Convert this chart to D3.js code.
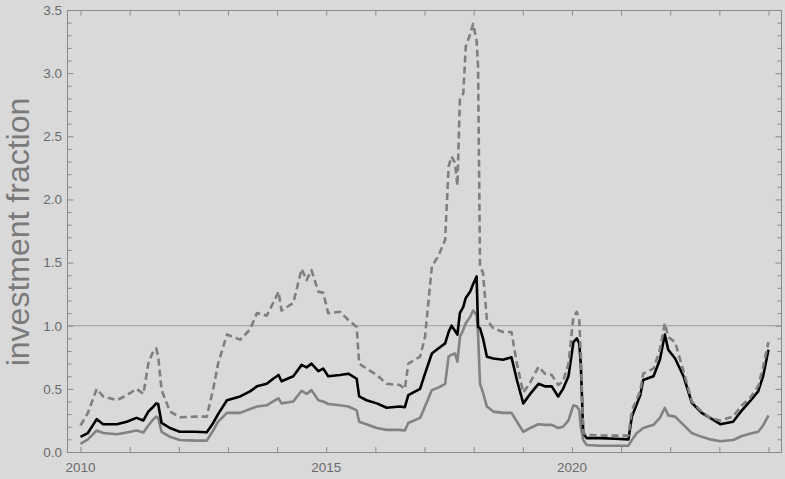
<!DOCTYPE html>
<html>
<head>
<meta charset="utf-8">
<script src="https://cdn.jsdelivr.net/npm/d3@7"></script>
<style>
html,body{margin:0;padding:0;background:#d9d9d9;}
svg{display:block;}
</style>
</head>
<body>
<svg id="chart" width="785" height="479"></svg>
<script>
// Time points (decimal years)
const years = [
2010.00,2010.15,2010.33,2010.46,2010.74,2010.94,2011.14,2011.28,2011.38,2011.46,
2011.54,2011.58,2011.65,2011.82,2012.02,2012.33,2012.57,2012.70,2012.80,2012.98,
2013.25,2013.45,2013.59,2013.79,2013.92,2014.03,2014.09,2014.33,2014.50,2014.60,
2014.70,2014.84,2014.94,2015.04,2015.28,2015.45,2015.62,2015.67,2015.82,2016.03,
2016.23,2016.50,2016.60,2016.67,2016.91,2017.01,2017.15,2017.28,2017.42,2017.49,
2017.55,2017.62,2017.67,2017.72,2017.79,2017.84,2017.93,2017.99,2018.06,2018.09,
2018.13,2018.19,2018.27,2018.40,2018.60,2018.77,2018.88,2019.01,2019.15,2019.32,
2019.45,2019.59,2019.72,2019.82,2019.93,2020.03,2020.10,2020.15,2020.18,2020.23,
2020.30,2020.57,2020.88,2021.15,2021.22,2021.32,2021.39,2021.45,2021.66,2021.79,
2021.89,2021.96,2022.10,2022.27,2022.44,2022.64,2022.81,2023.02,2023.28,2023.46,
2023.62,2023.79,2023.89,2024.00
];
// middle estimate (black solid)
const midValues = [
0.12,0.15,0.26,0.22,0.22,0.24,0.27,0.25,0.32,0.35,
0.385,0.38,0.23,0.19,0.16,0.16,0.156,0.23,0.30,0.41,
0.44,0.48,0.52,0.54,0.58,0.61,0.56,0.60,0.69,0.67,
0.70,0.64,0.66,0.60,0.61,0.62,0.58,0.44,0.41,0.385,
0.35,0.36,0.355,0.45,0.50,0.62,0.78,0.82,0.86,0.95,
1.00,0.96,0.93,1.10,1.15,1.22,1.27,1.33,1.39,0.99,
0.98,0.90,0.755,0.74,0.73,0.75,0.57,0.385,0.46,0.54,
0.52,0.52,0.44,0.50,0.60,0.87,0.90,0.86,0.70,0.15,
0.11,0.11,0.105,0.10,0.28,0.38,0.45,0.57,0.60,0.73,
0.93,0.81,0.74,0.60,0.39,0.31,0.27,0.22,0.24,0.33,
0.40,0.48,0.60,0.81
];
// upper estimate (gray dashed)
const highValues = [
0.21,0.31,0.50,0.44,0.41,0.45,0.50,0.46,0.70,0.78,
0.82,0.76,0.49,0.32,0.275,0.28,0.28,0.50,0.70,0.93,
0.89,0.97,1.10,1.08,1.18,1.27,1.12,1.18,1.45,1.36,
1.44,1.27,1.26,1.10,1.11,1.045,0.99,0.70,0.66,0.61,
0.54,0.53,0.50,0.70,0.755,0.91,1.47,1.55,1.68,2.26,
2.34,2.29,2.11,2.79,2.84,3.21,3.31,3.39,3.26,3.05,
1.47,1.42,1.045,0.98,0.95,0.95,0.70,0.47,0.55,0.675,
0.62,0.61,0.53,0.56,0.70,1.07,1.11,1.045,0.78,0.15,
0.135,0.13,0.13,0.13,0.33,0.42,0.48,0.62,0.66,0.81,
1.02,0.91,0.87,0.64,0.40,0.32,0.27,0.25,0.28,0.37,
0.425,0.52,0.675,0.87
];
// lower estimate (gray solid)
const lowValues = [
0.065,0.10,0.17,0.15,0.14,0.155,0.17,0.155,0.21,0.25,
0.28,0.27,0.16,0.12,0.095,0.09,0.09,0.17,0.24,0.31,
0.31,0.34,0.36,0.37,0.40,0.425,0.385,0.40,0.485,0.46,
0.49,0.41,0.40,0.38,0.37,0.36,0.33,0.24,0.22,0.19,
0.175,0.175,0.17,0.23,0.27,0.36,0.49,0.51,0.54,0.755,
0.77,0.78,0.715,0.91,0.97,1.02,1.07,1.12,1.085,0.94,
0.54,0.47,0.36,0.32,0.31,0.31,0.24,0.16,0.19,0.22,
0.215,0.215,0.19,0.20,0.25,0.37,0.36,0.33,0.20,0.095,
0.055,0.05,0.05,0.05,0.095,0.15,0.17,0.19,0.215,0.27,
0.35,0.29,0.28,0.215,0.15,0.12,0.10,0.085,0.095,0.127,
0.145,0.16,0.21,0.29
];
const xTickYears = [2010,2011,2012,2013,2014,2015,2016,2017,2018,2019,2020,2021,2022,2023,2024];
const xLabelYears = [2010,2015,2020];
const yMajorTicks = [0,0.5,1.0,1.5,2.0,2.5,3.0,3.5];
const yMinorTicks = d3.range(0,3.501,0.1);
const yTitle = "investment fraction";

const svg = d3.select("#chart");
const L=67, R=782, T=10, B=452;
const x = d3.scaleLinear().domain([2009.725,2024.275]).range([L,R]);
const y = d3.scaleLinear().domain([0,3.5]).range([B,T]);

svg.append("rect").attr("width",785).attr("height",479).attr("fill","#d9d9d9");

// reference line at 1.0
svg.append("line")
  .attr("x1",L).attr("x2",R)
  .attr("y1",y(1)).attr("y2",y(1))
  .attr("stroke","#a9a9a9").attr("stroke-width",1.2);

const line = vals => d3.line().x((d,i)=>x(years[i])).y(d=>y(d))(vals);

svg.append("path").attr("d",line(lowValues))
  .attr("fill","none").attr("stroke","#828282").attr("stroke-width",2.6)
  .attr("stroke-linejoin","round");
svg.append("path").attr("d",line(midValues))
  .attr("fill","none").attr("stroke","#000").attr("stroke-width",2.6)
  .attr("stroke-linejoin","round");
svg.append("path").attr("d",line(highValues))
  .attr("fill","none").attr("stroke","#7f7f7f").attr("stroke-width",2.6)
  .attr("stroke-dasharray","7,4").attr("stroke-linejoin","round");

// frame
const frameColor="#8a8a8a";
svg.append("rect").attr("x",L+0.5).attr("y",T+0.5).attr("width",R-L-1).attr("height",B-T)
  .attr("fill","none").attr("stroke",frameColor).attr("stroke-width",1);

// axes via d3 axis generators, ticks inward
const bottomAxis = d3.axisBottom(x).tickValues(xTickYears).tickSize(-5).tickFormat("");
const topAxis = d3.axisTop(x).tickValues(xTickYears).tickSize(-5).tickFormat("");
const gb = svg.append("g").attr("transform",`translate(0,${B})`).call(bottomAxis);
const gt = svg.append("g").attr("transform",`translate(0,${T+0.5})`).call(topAxis);
const minorOnly = yMinorTicks.filter(v=>!yMajorTicks.some(m=>Math.abs(m-v)<1e-6));
const gl1 = svg.append("g").attr("transform",`translate(${L+0.5},0)`).call(d3.axisLeft(y).tickValues(yMajorTicks).tickSize(-6).tickFormat(""));
const gl2 = svg.append("g").attr("transform",`translate(${L+0.5},0)`).call(d3.axisLeft(y).tickValues(minorOnly).tickSize(-4).tickFormat(""));
const gr1 = svg.append("g").attr("transform",`translate(${R-0.5},0)`).call(d3.axisRight(y).tickValues(yMajorTicks).tickSize(-6).tickFormat(""));
const gr2 = svg.append("g").attr("transform",`translate(${R-0.5},0)`).call(d3.axisRight(y).tickValues(minorOnly).tickSize(-4).tickFormat(""));
[gb,gt,gl1,gl2,gr1,gr2].forEach(g=>{
  g.select(".domain").remove();
  g.selectAll(".tick line").attr("stroke",frameColor).attr("stroke-width",1);
});

// labels
const labelColor="#6a6a6a";
svg.append("g").selectAll("text").data(xLabelYears).join("text")
  .attr("x",d=>x(d)).attr("y",472)
  .attr("text-anchor","middle")
  .attr("font-family","Liberation Sans, Arial, sans-serif").attr("font-size",13.5)
  .attr("fill",labelColor).text(d=>d);
svg.append("g").selectAll("text").data(yMajorTicks).join("text")
  .attr("x",62).attr("y",d=>y(d)+4.8)
  .attr("text-anchor","end")
  .attr("font-family","Liberation Sans, Arial, sans-serif").attr("font-size",13.5)
  .attr("fill",labelColor).text(d=>d.toFixed(1));

svg.append("text")
  .attr("transform","translate(29,232) rotate(-90)")
  .attr("text-anchor","middle")
  .attr("font-family","Liberation Sans, Arial, sans-serif").attr("font-size",32)
  .attr("fill","#7a7a7a").text(yTitle);
</script>
</body>
</html>
